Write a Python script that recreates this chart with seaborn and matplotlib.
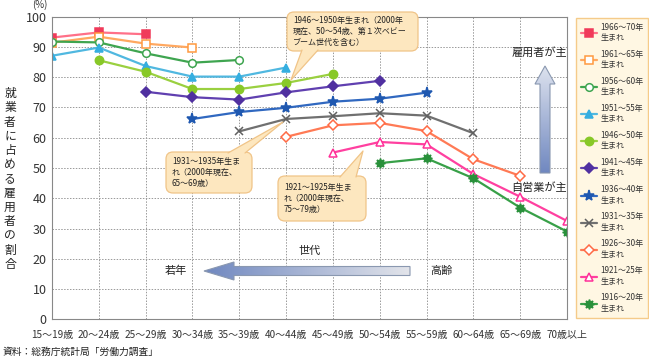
import numpy as np
import pandas as pd
import seaborn as sns
import matplotlib.pyplot as plt
from matplotlib.patches import Polygon, FancyBboxPatch

sns.set_theme(style="white")
plt.rcParams['font.family'] = ['Noto Sans CJK JP', 'DejaVu Sans']

# --- data ---
ages = ["15～19歳", "20～24歳", "25～29歳", "30～34歳", "35～39歳", "40～44歳",
        "45～49歳", "50～54歳", "55～59歳", "60～64歳", "65～69歳", "70歳以上"]
cohorts = ["1966～70年", "1961～65年", "1956～60年", "1951～55年", "1946～50年",
           "1941～45年", "1936～40年", "1931～35年", "1926～30年", "1921～25年", "1916～20年"]
nan = np.nan
v1966 = [93.1, 94.8, 94.2, nan, nan, nan, nan, nan, nan, nan, nan, nan]
v1961 = [91.4, 93.4, 91.1, 89.8, nan, nan, nan, nan, nan, nan, nan, nan]
v1956 = [91.8, 91.5, 87.9, 84.8, 85.7, nan, nan, nan, nan, nan, nan, nan]
v1951 = [87.1, 89.8, 83.7, 80.2, 80.2, 83.2, nan, nan, nan, nan, nan, nan]
v1946 = [nan, 85.6, 81.8, 76.1, 76.1, 78.1, 81.1, nan, nan, nan, nan, nan]
v1941 = [nan, nan, 75.2, 73.4, 72.6, 75.0, 77.0, 78.8, nan, nan, nan, nan]
v1936 = [nan, nan, nan, 66.2, 68.5, 69.9, 71.9, 72.9, 74.9, nan, nan, nan]
v1931 = [nan, nan, nan, nan, 62.1, 66.2, 67.1, 68.1, 67.3, 61.5, nan, nan]
v1926 = [nan, nan, nan, nan, nan, 60.3, 64.1, 64.9, 62.2, 52.9, 47.4, nan]
v1921 = [nan, nan, nan, nan, nan, nan, 55.1, 58.6, 57.8, 48.0, 40.5, 32.5]
v1916 = [nan, nan, nan, nan, nan, nan, nan, 51.6, 53.2, 46.6, 36.9, 29.0]
series = [v1966, v1961, v1956, v1951, v1946, v1941, v1936, v1931, v1926, v1921, v1916]

rows = []
for c, vals in zip(cohorts, series):
    for i, v in enumerate(vals):
        if not np.isnan(v):
            rows.append({"cohort": c, "pos": i, "value": v})
df = pd.DataFrame(rows)

styles = {
    "1966～70年": dict(color="#ff7088", marker="s", markerfacecolor="#f03a5a", markeredgecolor="#f03a5a", markersize=5.5),
    "1961～65年": dict(color="#ffa860", marker="s", markerfacecolor="white", markeredgecolor="#ff9a40", markersize=5.5),
    "1956～60年": dict(color="#3fa550", marker="o", markerfacecolor="white", markeredgecolor="#3fa550", markersize=5.5),
    "1951～55年": dict(color="#50b8e0", marker="^", markerfacecolor="#35aee0", markeredgecolor="#35aee0", markersize=6),
    "1946～50年": dict(color="#9ad040", marker="o", markerfacecolor="#88c828", markeredgecolor="#88c828", markersize=6),
    "1941～45年": dict(color="#6040b0", marker="D", markerfacecolor="#5030a0", markeredgecolor="#5030a0", markersize=5),
    "1936～40年": dict(color="#3068c0", marker="*", markerfacecolor="#1f58b0", markeredgecolor="#1f58b0", markersize=8),
    "1931～35年": dict(color="#707070", marker="x", markerfacecolor="#606060", markeredgecolor="#606060", markersize=5.5),
    "1926～30年": dict(color="#ff7a55", marker="D", markerfacecolor="white", markeredgecolor="#ff6a45", markersize=5),
    "1921～25年": dict(color="#ff40a0", marker="^", markerfacecolor="white", markeredgecolor="#ff3098", markersize=6),
    "1916～20年": dict(color="#38a048", marker=(8, 1, 0), markerfacecolor="#28903a", markeredgecolor="#28903a", markersize=7),
}

fig = plt.figure(figsize=(6.49, 3.61), dpi=100)
W, H = 649, 361
ax = fig.add_axes([52 / W, 1 - 319.3 / H, 515 / W, 302.6 / H])

for c in cohorts:
    d = df[df["cohort"] == c]
    sns.lineplot(data=d, x="pos", y="value", ax=ax, linewidth=1.6,
                 markeredgewidth=1.1, label=c + "\n生まれ", legend=False, **styles[c])

ax.set_xlim(0, len(ages) - 1)
ax.set_ylim(0, 100)
ax.set_xticks(range(len(ages)))
ax.set_xticklabels(ages, fontsize=7.2, color="#333333")
ax.set_yticks(range(0, 101, 10))
ax.tick_params(axis="y", labelsize=9, colors="#333333", length=0, pad=4)
ax.tick_params(axis="x", length=0, pad=8)
ax.set_xlabel("")
ax.set_ylabel("")
ax.grid(True, color="#999999", linestyle=(0, (1.5, 1.5)), linewidth=0.7)
for s in ax.spines.values():
    s.set_color("#888888")
    s.set_linewidth(0.8)

# legend
handles, labels = ax.get_legend_handles_labels()
leg = fig.legend(handles, labels, loc="upper left", bbox_to_anchor=(576 / W, 1 - 18 / H),
                 bbox_transform=fig.transFigure, fontsize=5.8, frameon=True, fancybox=False,
                 handlelength=2.0, handletextpad=0.4, labelspacing=0.95, borderpad=0.6,
                 borderaxespad=0)
leg.get_frame().set_facecolor("#fff6dc")
leg.get_frame().set_edgecolor("#f3c070")
leg.get_frame().set_linewidth(1.0)
for t in leg.get_texts():
    t.set_color("#333333")

# overlay in pixel coordinates
ov = fig.add_axes([0, 0, 1, 1], facecolor="none")
ov.set_xlim(0, W)
ov.set_ylim(H, 0)
ov.axis("off")


def grad_arrow(pts, direction, c0, c1, extent):
    poly = Polygon(pts, closed=True, facecolor="none", edgecolor="#8a98b0", linewidth=0.8, zorder=3)
    ov.add_patch(poly)
    g = np.linspace(0, 1, 100)
    c0 = np.array(plt.matplotlib.colors.to_rgb(c0))
    c1 = np.array(plt.matplotlib.colors.to_rgb(c1))
    cols = c0[None, :] * (1 - g[:, None]) + c1[None, :] * g[:, None]
    img = cols[None, :, :] if direction == "h" else cols[:, None, :]
    im = ov.imshow(img, extent=extent, aspect="auto", zorder=2, interpolation="bilinear")
    im.set_clip_path(poly)


# horizontal arrow (左向き)
h_pts = [(204, 271), (234, 262), (234, 266.5), (410, 266.5), (410, 275.5), (234, 275.5), (234, 280)]
grad_arrow(h_pts, "h", "#7088c0", "#e2e4ea", (204, 410, 280, 262))
# vertical arrow (上向き)
v_pts = [(545, 66), (555, 84), (550, 84), (550, 173), (540, 173), (540, 84), (535, 84)]
grad_arrow(v_pts, "v", "#7088c0", "#dde2ee", (535, 555, 66, 173))

tk = dict(fontsize=8, color="#222222", ha="center", va="center")
ov.text(310, 251, "世代", **tk)
ov.text(176, 271, "若年", **tk)
ov.text(441, 271, "高齢", **tk)
ov.text(539, 52, "雇用者が主", **tk)
ov.text(539, 188, "自営業が主", **tk)


def callout(x0, y0, x1, y1, tail, text):
    box = FancyBboxPatch((x0, y0), x1 - x0, y1 - y0, boxstyle="round,pad=0,rounding_size=7",
                         facecolor="#fde7bf", edgecolor="#f0c488", linewidth=0.9, zorder=5)
    ov.add_patch(box)
    ov.add_patch(Polygon(tail, closed=True, facecolor="#fde7bf", edgecolor="none", zorder=6))
    ov.plot([tail[0][0], tail[1][0], tail[2][0]], [tail[0][1], tail[1][1], tail[2][1]],
            color="#f0c488", linewidth=0.9, zorder=6)
    ov.text(x0 + 6, (y0 + y1) / 2, text, fontsize=5.8, color="#222222", ha="left", va="center",
            linespacing=1.35, zorder=7)


callout(287, 12, 418, 51, [(302, 50), (291, 80), (318, 50)],
        "1946～1950年生まれ（2000年\n現在、50～54歳、第１次ベビー\nブーム世代を含む）")
callout(166, 152, 252, 193, [(228, 153), (283, 122), (245, 153)],
        "1931～1935年生ま\nれ（2000年現在、\n65～69歳）")
callout(278, 176, 366, 221, [(340, 177), (363, 151), (356, 177)],
        "1921～1925年生ま\nれ（2000年現在、\n75～79歳）")

# axis texts
ov.text(40, 5, "(%)", fontsize=7, color="#333333", ha="center", va="center")
ov.text(10, 179, "\n".join("就業者に占める雇用者の割合"), fontsize=8.5, color="#222222",
        ha="center", va="center", linespacing=1.12)
ov.text(3, 352, "資料：総務庁統計局「労働力調査」", fontsize=7, color="#222222", ha="left", va="center")

fig.savefig("out.png", dpi=100)
